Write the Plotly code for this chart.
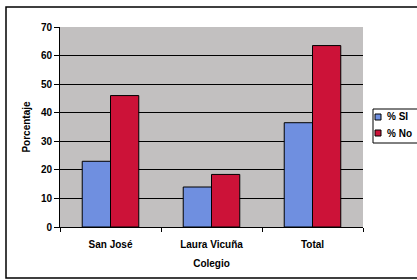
import plotly.graph_objects as go

categories = ["San José", "Laura Vicuña", "Total"]
si_values = [23, 14, 36.5]
no_values = [46, 18.4, 63.5]
y_ticks = [0, 10, 20, 30, 40, 50, 60, 70]
series_names = ["% SI", "% No"]
series_colors = ["#6f8fe0", "#cc1238"]

FAM = "Liberation Sans, Arial, sans-serif"
def bfont(size=10):
    return dict(family=FAM, size=size, color="black", weight="bold")

# plot area in pixels (for converting overlay positions to paper coords)
L, R, T, B = 60, 363, 27, 227
def px(x):
    return (x - L) / (R - L)
def py(y):
    return (B - y) / (B - T)

fig = go.Figure()
fig.add_trace(go.Bar(name=series_names[0], x=categories, y=si_values,
                     marker=dict(color=series_colors[0], line=dict(color="black", width=1))))
fig.add_trace(go.Bar(name=series_names[1], x=categories, y=no_values,
                     marker=dict(color=series_colors[1], line=dict(color="black", width=1))))

fig.update_layout(
    width=417, height=280,
    margin=dict(l=L, r=417 - R, t=T, b=280 - B),
    paper_bgcolor="white",
    plot_bgcolor="#c2c0c0",
    barmode="group",
    bargap=0.44,
    bargroupgap=0,
    font=bfont(10),
    showlegend=False,
    xaxis=dict(
        type="category",
        tickson="boundaries",
        ticks="outside", ticklen=4, tickcolor="black",
        showline=True, linecolor="black", linewidth=1,
        showgrid=False,
        tickfont=bfont(10),
        ticklabelstandoff=8,
        automargin=False,
        title=dict(text="Colegio", standoff=10, font=bfont(10)),
    ),
    yaxis=dict(
        range=[0, 70],
        tickvals=y_ticks,
        ticks="outside", ticklen=5, tickcolor="black",
        showline=True, linecolor="black", linewidth=1,
        showgrid=True, gridcolor="black", gridwidth=1,
        zeroline=False,
        tickfont=bfont(10),
        automargin=False,
        title=dict(text="Porcentaje", standoff=8, font=bfont(10)),
    ),
)

# outer chart frame
fig.add_shape(type="rect", xref="paper", yref="paper",
              x0=px(6), x1=px(425), y0=py(278), y1=py(7),
              line=dict(color="black", width=1.5), layer="below")

# legend drawn as overlay
fig.add_shape(type="rect", xref="paper", yref="paper",
              x0=px(373), x1=px(430), y0=py(143), y1=py(109),
              line=dict(color="black", width=1), fillcolor="white")
for i, (name, color) in enumerate(zip(series_names, series_colors)):
    yc = 117 + 16 * i
    fig.add_shape(type="rect", xref="paper", yref="paper",
                  x0=px(375), x1=px(381), y0=py(yc + 3), y1=py(yc - 3),
                  line=dict(color="black", width=1), fillcolor=color)
    fig.add_annotation(xref="paper", yref="paper", x=px(385), y=py(yc),
                       xanchor="left", yanchor="middle", text=name,
                       showarrow=False, font=bfont(10))

fig.write_html("out.html", config={"displayModeBar": False},
               post_script="document.body.style.margin='0';")
